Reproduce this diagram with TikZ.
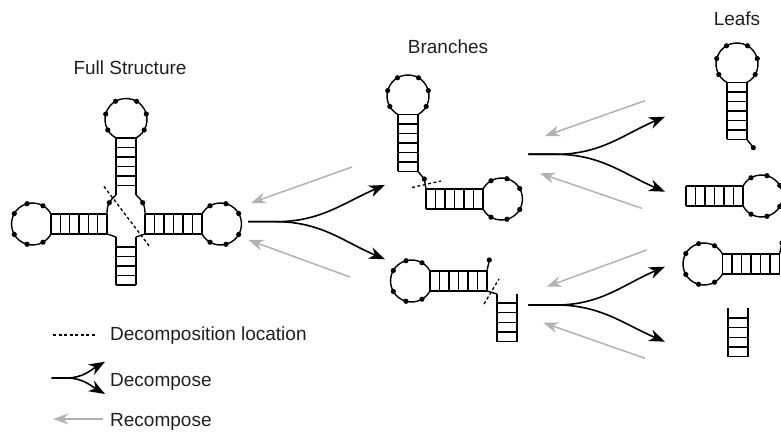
\documentclass[tikz,border=0pt]{standalone}
\usepackage{fontspec}
\setmainfont{Liberation Sans}
\usetikzlibrary{arrows.meta}

\definecolor{recgray}{RGB}{178,178,178}
\definecolor{txt}{RGB}{35,31,32}

% hairpin loop: #1 centre, #2 direction towards its stem
\newcommand{\rnaloop}[2]{%
	\draw[rna] (#1) ++(#2+28.4:21) arc[start angle=#2+28.4, end angle=#2+331.6, radius=21];
	\foreach \a in {60,105,150,210,255,300}
		\fill (#1) ++(#2+\a:21) circle (2.6);
}

\begin{document}
\begin{tikzpicture}[x=1pt, y=1pt,
	rna/.style={line width=1.4pt, line join=round},
	cut/.style={line width=1.3pt, dash pattern=on 3pt off 2.5pt},
	dec/.style={line width=1.6pt, -{Stealth[length=16pt,width=12pt,inset=5pt]}},
	rec/.style={line width=1.5pt, recgray, -{Stealth[length=15pt,width=11pt,inset=5pt]}},
	lbl/.style={font=\fontsize{19}{22}\selectfont, text=txt, inner sep=0pt}]
	\useasboundingbox (0,0) rectangle (781,431);
	\clip (0,0) rectangle (781,431);

	% full structure
	\rnaloop{126,311.5}{-90}
	\draw[rna] (116,293) -- (116,236) (136,293) -- (136,236);
	\foreach \k in {0,...,5} \draw[rna] (116,293-9.5*\k) -- (136,293-9.5*\k);
	\rnaloop{32.5,207}{0}
	\draw[rna] (51,217) -- (107,217) (51,197) -- (107,197);
	\foreach \k in {0,...,6} \draw[rna] (51+56/6*\k,217) -- (51+56/6*\k,197);
	\rnaloop{220.5,207}{180}
	\draw[rna] (145,217) -- (202,217) (145,197) -- (202,197);
	\foreach \k in {0,...,6} \draw[rna] (145+9.5*\k,217) -- (145+9.5*\k,197);
	\draw[rna] (116,194) -- (116,146) (136,194) -- (136,146);
	\foreach \k in {0,...,4} \draw[rna] (116,146+9.5*\k) -- (136,146+9.5*\k);
	\draw[rna] (116,236) .. controls (110,231) and (107,226) .. (107,219) -- (107,197) -- (116,194);
	\draw[rna] (136,236) .. controls (142,231) and (145,226) .. (145,219) -- (145,197) -- (136,194);
	\fill (109.3,228.3) circle (2.6);
	\fill (142.7,228.3) circle (2.6);
	\draw[cut] (104,244.5) -- (150,184);

	% upper branch
	\rnaloop{408,335}{-90}
	\draw[rna] (398,316.5) -- (398,259.5) (418,316.5) -- (418,259.5);
	\foreach \k in {0,...,6} \draw[rna] (398,259.5+9.5*\k) -- (418,259.5+9.5*\k);
	\draw[rna] (418,259.5) -- (424.3,252) -- (426,242);
	\fill (424.3,252) circle (2.6);
	\draw[rna] (426,242) -- (483,242) (426,222) -- (483,222);
	\foreach \k in {0,...,6} \draw[rna] (426+9.5*\k,242) -- (426+9.5*\k,222);
	\rnaloop{501.5,232}{180}
	\draw[cut] (412,243.5) -- (441,250);

	% lower branch
	\rnaloop{411.5,150}{0}
	\draw[rna] (430,160) -- (487,160) (430,140) -- (487,140);
	\foreach \k in {0,...,6} \draw[rna] (430+9.5*\k,160) -- (430+9.5*\k,140);
	\draw[rna] (487,160) -- (489.3,171);
	\fill (489.3,171) circle (2.6);
	\draw[rna] (487,140) -- (497,137);
	\draw[rna] (497,137) -- (497,89.5) (517,137) -- (517,89.5);
	\foreach \k in {0,...,4} \draw[rna] (497,89.5+9.6*\k) -- (517,89.5+9.6*\k);
	\draw[cut] (484,127) -- (499,152);

	% leafs
	\rnaloop{737,367}{-90}
	\draw[rna] (727,348.5) -- (727,291.5) (747,348.5) -- (747,291.5);
	\foreach \k in {0,...,6} \draw[rna] (727,291.5+9.5*\k) -- (747,291.5+9.5*\k);
	\draw[rna] (747,291.5) -- (753.3,283.3);
	\fill (753.3,283.3) circle (2.6);

	\draw[rna] (686,245) -- (743,245) (686,225) -- (743,225);
	\foreach \k in {0,...,6} \draw[rna] (686+9.5*\k,245) -- (686+9.5*\k,225);
	\rnaloop{761.5,235}{180}

	\rnaloop{704,167}{0}
	\draw[rna] (722.5,177) -- (779.5,177) (722.5,157) -- (779.5,157);
	\foreach \k in {0,...,6} \draw[rna] (722.5+9.5*\k,177) -- (722.5+9.5*\k,157);
	\draw[rna] (779.5,177) -- (782,188);
	\fill (782,188) circle (2.6);

	\draw[rna] (728,122.5) -- (728,74.5) (748,122.5) -- (748,74.5);
	\foreach \k in {0,...,4} \draw[rna] (728,74.5+9.6*\k) -- (748,74.5+9.6*\k);

	% decompose / recompose arrows
	\coordinate (d1) at (248,209.3);
	\coordinate (d1j) at (276,209.3);
	\coordinate (d1a) at (385,246);
	\coordinate (d1b) at (385,171.7);
	\draw[dec] (d1) -- (d1j) to[out=0,in=203] (d1a);
	\draw[dec] (d1) -- (d1j) to[out=0,in=157] (d1b);
	\coordinate (r1a) at (352,264);
	\coordinate (r1at) at (251,228);
	\coordinate (r1b) at (350,154);
	\coordinate (r1bt) at (248.5,191);
	\draw[rec] (r1a) -- (r1at);
	\draw[rec] (r1b) -- (r1bt);

	\coordinate (d2) at (528.3,276.7);
	\coordinate (d2j) at (556,276.7);
	\coordinate (d2a) at (665,314.3);
	\coordinate (d2b) at (665,239.3);
	\draw[dec] (d2) -- (d2j) to[out=0,in=203] (d2a);
	\draw[dec] (d2) -- (d2j) to[out=0,in=157] (d2b);
	\coordinate (r2a) at (645,330.3);
	\coordinate (r2at) at (545,295);
	\coordinate (r2b) at (641.7,222.7);
	\coordinate (r2bt) at (540,257.7);
	\draw[rec] (r2a) -- (r2at);
	\draw[rec] (r2b) -- (r2bt);

	\coordinate (d3) at (528.3,126);
	\coordinate (d3j) at (556,126);
	\coordinate (d3a) at (665,164.3);
	\coordinate (d3b) at (665,89.3);
	\draw[dec] (d3) -- (d3j) to[out=0,in=203] (d3a);
	\draw[dec] (d3) -- (d3j) to[out=0,in=157] (d3b);
	\coordinate (r3a) at (646.7,181);
	\coordinate (r3at) at (546.7,144.3);
	\coordinate (r3b) at (645,72.7);
	\coordinate (r3bt) at (543.3,108.3);
	\draw[rec] (r3a) -- (r3at);
	\draw[rec] (r3b) -- (r3bt);

	% titles
	\node[lbl, anchor=base] (t-full) at (130,356) {Full Structure};
	\node[lbl, anchor=base] (t-branch) at (448,377) {Branches};
	\node[lbl, anchor=base] (t-leaf) at (737,405) {Leafs};

	% legend
	\coordinate (lc1) at (53,96);
	\coordinate (lc2) at (95,96);
	\draw[cut] (lc1) -- (lc2);
	\node[lbl, anchor=base west] (lg-cut) at (110,90) {Decomposition location};
	\coordinate (ld) at (51.7,53);
	\coordinate (ldj) at (66.7,53);
	\coordinate (lda) at (105,69.3);
	\coordinate (ldb) at (105,37);
	\draw[dec] (ld) -- (ldj) to[out=0,in=210] (lda);
	\draw[dec] (ld) -- (ldj) to[out=0,in=150] (ldb);
	\node[lbl, anchor=base west] (lg-dec) at (110,45) {Decompose};
	\coordinate (lr) at (103.3,12);
	\coordinate (lrt) at (53.3,12);
	\draw[rec] (lr) -- (lrt);
	\node[lbl, anchor=base west] (lg-rec) at (110,4.5) {Recompose};
\end{tikzpicture}
\end{document}
